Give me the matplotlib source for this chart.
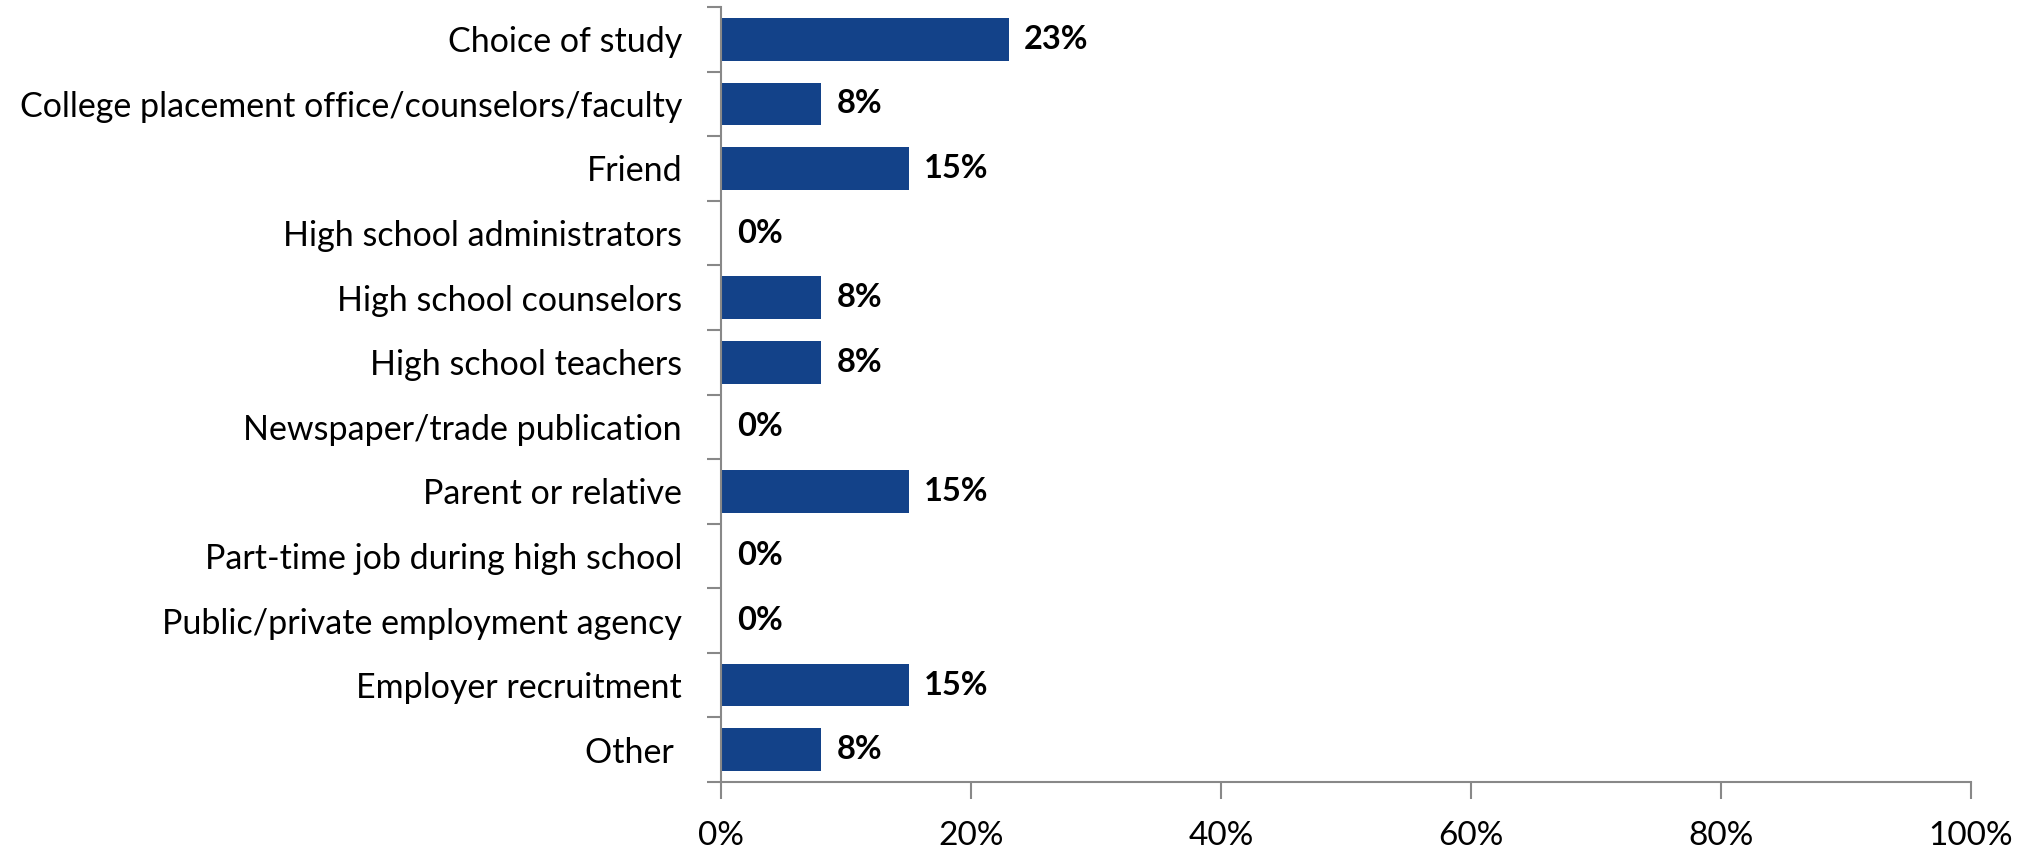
import matplotlib.pyplot as plt
from matplotlib.ticker import FixedLocator, PercentFormatter

categories = ['Choice of study',
              'College placement office/counselors/faculty',
              'Friend',
              'High school administrators',
              'High school counselors',
              'High school teachers',
              'Newspaper/trade publication',
              'Parent or relative',
              'Part-time job during high school',
              'Public/private employment agency',
              'Employer recruitment',
              'Other ']
values = [23, 8, 15, 0, 8, 8, 0, 15, 0, 0, 15, 8]
x_ticks = [0, 20, 40, 60, 80, 100]

plt.rcParams['font.family'] = ['Lato', 'DejaVu Sans']

fig = plt.figure(figsize=(20.30, 8.49), dpi=100)
ax = fig.add_axes([721 / 2030, 1 - 782 / 849, 1250 / 2030, 775 / 849])

n = len(categories)
pos = list(range(n))
ax.barh(pos, values, height=0.66, color='#134289')
for p, v in zip(pos, values):
    ax.text(v + 1.25, p, '%d%%' % v, va='center', ha='left',
            fontsize=23.5, fontweight='bold', color='black')

ax.set_xlim(0, 100)
ax.set_ylim(n - 0.5, -0.5)
ax.set_xticks(x_ticks)
ax.xaxis.set_major_formatter(PercentFormatter(decimals=0))
ax.set_yticks(pos)
ax.set_yticklabels(categories)
ax.yaxis.set_minor_locator(FixedLocator([i - 0.5 for i in range(n + 1)]))
ax.tick_params(axis='y', which='major', length=0, pad=28, labelsize=24.5)
ax.tick_params(axis='y', which='minor', length=10, width=1.5, color='#888888')
ax.tick_params(axis='x', length=12, width=1.5, color='#888888', pad=16,
               labelsize=24)

for side in ['top', 'right']:
    ax.spines[side].set_visible(False)
for side in ['left', 'bottom']:
    ax.spines[side].set_color('#888888')
    ax.spines[side].set_linewidth(1.5)

fig.savefig('out.png', dpi=100)
